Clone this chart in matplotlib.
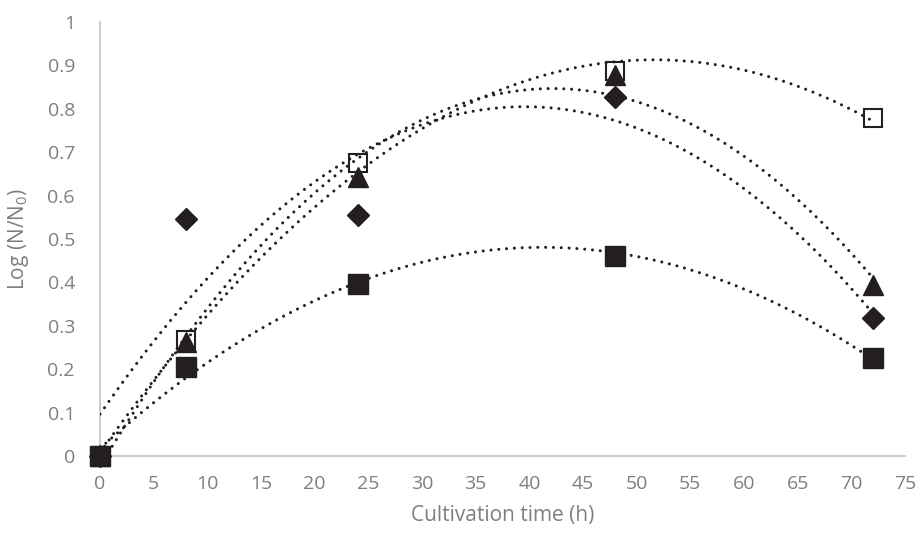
import numpy as np
import matplotlib
matplotlib.use("Agg")
import matplotlib.pyplot as plt

plt.rcParams['font.family'] = ['Open Sans', 'DejaVu Sans']

# Cultivation time (h) and log growth for each sample
hours = [0, 8, 24, 48, 72]
diamond = [0.0, 0.547, 0.555, 0.827, 0.318]
triangle = [0.0, 0.262, 0.643, 0.878, 0.394]
sq_filled = [0.0, 0.205, 0.396, 0.461, 0.226]
sq_open = [0.0, 0.267, 0.675, 0.887, 0.779]

ink = '#231f20'
fig = plt.figure(figsize=(9.19, 5.36), dpi=100)
ax = fig.add_axes([100 / 919, 1 - 456 / 536, 805 / 919, 434 / 536])

series = [
    (sq_open, dict(marker='s', ms=13, mfc='none', mec=ink, mew=1.5)),
    (diamond, dict(marker='D', ms=11, mfc=ink, mec=ink)),
    (triangle, dict(marker='^', ms=15, mfc=ink, mec=ink)),
    (sq_filled, dict(marker='s', ms=14, mfc=ink, mec=ink)),
]

# second order polynomial trendlines
xs = np.linspace(0, 72, 300)
for ys, _ in series:
    coef = np.polyfit(hours, ys, 2)
    ax.plot(xs, np.polyval(coef, xs), color=ink, lw=2.2,
            linestyle=(0, (0.01, 2.55)), dash_capstyle='round', zorder=3)

for ys, style in series:
    ax.plot(hours, ys, linestyle='none', clip_on=False, zorder=4, **style)

ax.set_xlim(0, 75)
ax.set_ylim(0, 1)
ax.set_xticks(np.arange(0, 76, 5))
ax.set_yticks(np.arange(0, 1.01, 0.1))
ax.set_yticklabels(['0'] + [f'{v:.1f}' for v in np.arange(0.1, 0.95, 0.1)] + ['1'])

for side in ('top', 'right'):
    ax.spines[side].set_visible(False)
for side in ('left', 'bottom'):
    ax.spines[side].set_color('#c8c8c8')
    ax.spines[side].set_linewidth(1.3)

ax.tick_params(length=0, labelsize=14, labelcolor='#7f7f7f')
ax.tick_params(axis='y', pad=18)
ax.tick_params(axis='x', pad=14)

ax.set_xlabel('Cultivation time (h)', fontsize=15, color='#7f7f7f', labelpad=8)
ax.set_ylabel(r'Log (N/N$_{\mathregular{0}}$)', fontsize=15, color='#7f7f7f', labelpad=12)

fig.savefig('out.png', dpi=100)
